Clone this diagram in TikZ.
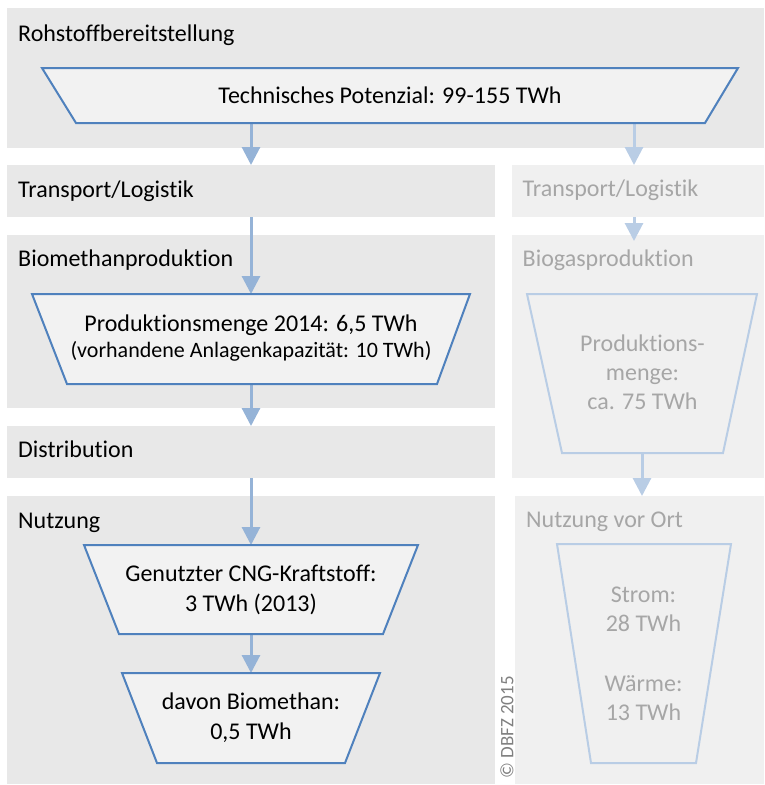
\documentclass[tikz,border=0pt]{standalone}
\usepackage{fontspec}
\setmainfont[Ligatures=NoCommon]{Carlito}
\usetikzlibrary{arrows.meta}
\definecolor{bandL}{HTML}{E8E8E8}
\definecolor{bandR}{HTML}{F0F0F0}
\definecolor{trapfill}{HTML}{F2F2F2}
\definecolor{blueD}{HTML}{4F81BD}
\definecolor{blueA}{HTML}{95B3D7}
\definecolor{blueL}{HTML}{B9CDE5}
\definecolor{txtR}{HTML}{A6A6A6}
\definecolor{copyc}{HTML}{808080}
\begin{document}
\begin{tikzpicture}[x=1pt,y=-1pt,
  band/.style={fill=bandL, draw=none, inner sep=0pt, outer sep=0pt, anchor=north west},
  bandr/.style={fill=bandR, draw=none, inner sep=0pt, outer sep=0pt, anchor=north west},
  lbl/.style={anchor=base west, inner sep=0pt, font=\fontsize{24}{29}\selectfont},
  lblr/.style={lbl, text=txtR},
  trapL/.style={draw=blueD, line width=2pt, fill=trapfill, line join=miter},
  trapR/.style={draw=blueL, line width=2pt},
  ttxt/.style={align=center, inner sep=0pt, font=\fontsize{24}{30}\selectfont},
  ttxtr/.style={align=center, inner sep=0pt, text=txtR, font=\fontsize{24}{29}\selectfont},
  arrL/.style={draw=blueA, line width=3pt, -{Triangle[width=18pt,length=18pt]}},
  arrR/.style={draw=blueL, line width=3pt, -{Triangle[width=18pt,length=18pt]}},
]
\useasboundingbox (0,0) rectangle (764,785);
% bands
\node[band, minimum width=757pt, minimum height=140pt] (bRoh) at (7,8) {};
\node[band, minimum width=488pt, minimum height=52pt] (bTrL) at (7,165) {};
\node[band, minimum width=488pt, minimum height=173pt] (bBio) at (7,235) {};
\node[band, minimum width=488pt, minimum height=52pt] (bDis) at (7,426) {};
\node[band, minimum width=488pt, minimum height=288pt] (bNut) at (7,496) {};
\node[bandr, minimum width=252pt, minimum height=52pt] (bTrR) at (512,165) {};
\node[bandr, minimum width=252pt, minimum height=243pt] (bBgs) at (512,235) {};
\node[bandr, minimum width=249pt, minimum height=288pt] (bOrt) at (515,496) {};
% band labels
\node[lbl] (lRoh) at (18,41.5) {Rohstoffbereitstellung};
\node[lbl] (lTrL) at (18,197) {Transport/Logistik};
\node[lbl] (lBio) at (18,266) {Biomethanproduktion};
\node[lbl] (lDis) at (18,457.5) {Distribution};
\node[lbl] (lNut) at (18,528) {Nutzung};
\node[lblr] (lTrR) at (522.5,196) {Transport/Logistik};
\node[lblr] (lBgs) at (522.5,266) {Biogasproduktion};
\node[lblr] (lOrt) at (526,527) {Nutzung vor Ort};
% connector end points
\coordinate (t1s) at (251,123);
\coordinate (t1sR) at (634,123);
\coordinate (t2top) at (251,294);
\coordinate (t2bot) at (251,384);
\coordinate (t3top) at (251,545);
\coordinate (t3bot) at (251,634);
\coordinate (t4top) at (251,673);
\coordinate (bgsIn) at (634,241);
\coordinate (tR1bot) at (642,453);
% connectors
\draw[arrL] (t1s) -- (t1s |- bTrL.north);
\draw[arrL] (bTrL.south) -- (t2top);
\draw[arrL] (t2bot) -- (t2bot |- bDis.north);
\draw[arrL] (bDis.south) -- (t3top);
\draw[arrL] (t3bot) -- (t4top);
\draw[arrR] (t1sR) -- (t1sR |- bTrR.north);
\draw[arrR] (bTrR.south -| bgsIn) -- (bgsIn);
\draw[arrR] (tR1bot) -- (tR1bot |- bOrt.north);
% trapezoids
\draw[trapL] (42,68) -- (738,68) -- (705,123) -- (76,123) -- cycle;
\draw[trapL] (32,294) -- (470,294) -- (437,384) -- (67,384) -- cycle;
\draw[trapL] (84,545) -- (418,545) -- (383,634) -- (119,634) -- cycle;
\draw[trapL] (122,673) -- (380,673) -- (345,763) -- (157,763) -- cycle;
\draw[trapR] (527,294) -- (757,294) -- (723,453) -- (562,453) -- cycle;
\draw[trapR] (557,544) -- (731,544) -- (696,763) -- (591,763) -- cycle;
% trapezoid texts
\node[ttxt, anchor=base] (x1) at (390,103) {Technisches Potenzial: 99-155 TWh};
\node[ttxt] (x2) at (251,338) {Produktionsmenge 2014: 6,5 TWh\\[-3.5pt]{\fontsize{22}{26}\selectfont(vorhandene Anlagenkapazität: 10 TWh)}};
\node[ttxt] (x3) at (251,589.7) {Genutzter CNG-Kraftstoff:\\3 TWh (2013)};
\node[ttxt] (x4) at (251,718) {davon Biomethan:\\0,5 TWh};
\node[ttxtr] (xR1) at (642.5,372.5) {Produktions-\\menge:\\ca. 75 TWh};
\node[ttxtr] (xR2) at (643.5,653.4) {Strom:\\28 TWh\\[31pt]Wärme:\\13 TWh};
% copyright
\node[rotate=90, inner sep=0pt, text=copyc, font=\fontsize{19}{22}\selectfont] (copy) at (507,727.5) {© DBFZ 2015};
\end{tikzpicture}
\end{document}
